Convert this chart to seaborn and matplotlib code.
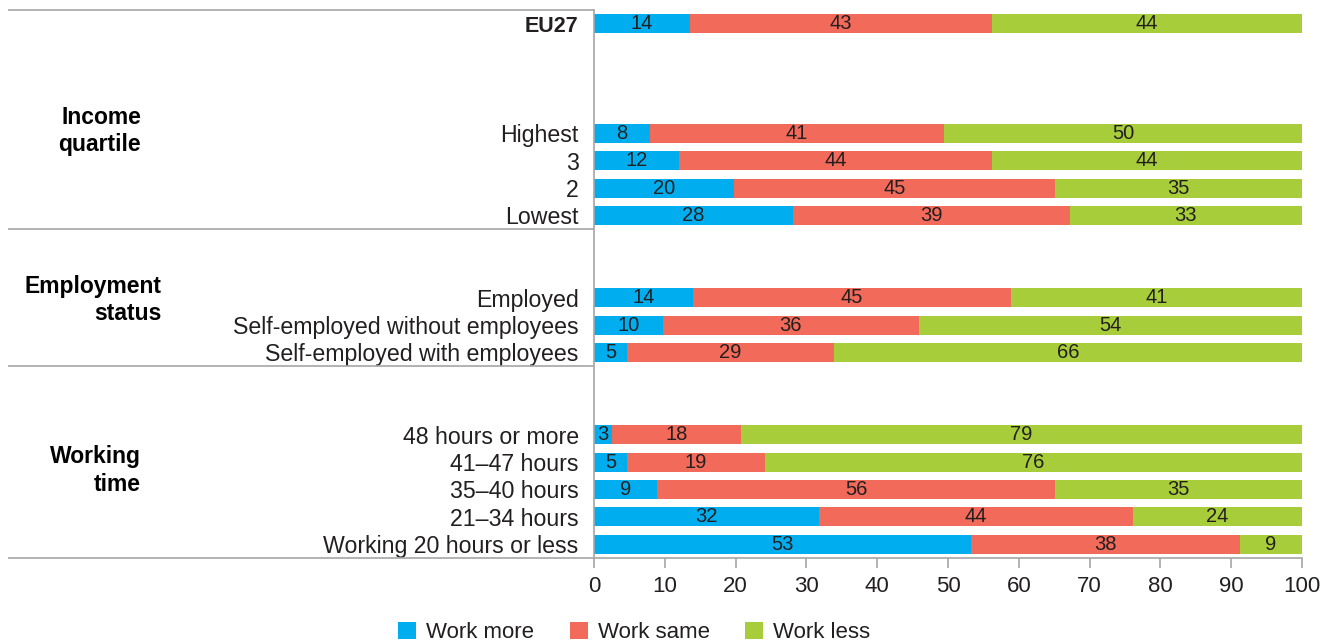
import matplotlib
matplotlib.use("Agg")
import matplotlib.pyplot as plt
from matplotlib.patches import Patch
import seaborn as sns
import pandas as pd
import numpy as np

# ---- data ----
rows = ["EU27", "Highest", "3", "2", "Lowest",
        "Employed", "Self-employed without employees", "Self-employed with employees",
        "48 hours or more", "41\u201347 hours", "35\u201340 hours", "21\u201334 hours",
        "Working 20 hours or less"]
row_pos = [0, 4, 5, 6, 7, 10, 11, 12, 15, 16, 17, 18, 19]

# shares (bar lengths)
work_more = [13.6, 7.9, 12.0, 19.8, 28.1, 14.0, 9.7, 4.7, 2.6, 4.7, 8.9, 31.8, 53.2]
work_same = [42.6, 41.5, 44.2, 45.3, 39.1, 44.9, 36.2, 29.2, 18.2, 19.4, 56.2, 44.3, 38.0]
work_less = [43.8, 50.6, 43.8, 34.9, 32.8, 41.1, 54.1, 66.1, 79.2, 75.9, 34.9, 23.9, 8.8]

# labels printed on the bars
lbl_more = [14, 8, 12, 20, 28, 14, 10, 5, 3, 5, 9, 32, 53]
lbl_same = [43, 41, 44, 45, 39, 45, 36, 29, 18, 19, 56, 44, 38]
lbl_less = [44, 50, 44, 35, 33, 41, 54, 66, 79, 76, 35, 24, 9]

series_names = ["Work more", "Work same", "Work less"]
colors = ["#00AEEF", "#F26A5A", "#A8CD3A"]

groups = ["Income\nquartile", "Employment\nstatus", "Working\ntime"]
group_y = [3.92, 10.08, 16.3]
group_x = [-0.64, -0.611, -0.64]
separators = [-0.5, 7.5, 12.5, 19.5]
x_ticks = list(range(0, 101, 10))

# ---- style ----
sns.set_theme(style="white")
plt.rcParams["font.family"] = ["Liberation Sans", "DejaVu Sans"]
text_color = "#231F20"
line_color = "#A6A6A6"

df = pd.DataFrame({"pos": row_pos, "more": work_more, "same": work_same, "less": work_less})
df["end_more"] = df["more"]
df["end_same"] = df["more"] + df["same"]
df["end_less"] = df["more"] + df["same"] + df["less"]

fig = plt.figure(figsize=(13.38, 6.44), dpi=100)
ax = fig.add_axes([594 / 1338, 1 - 558 / 644, (1302 - 594) / 1338, (558 - 10) / 644])

for col, c in zip(["end_less", "end_same", "end_more"], colors[::-1]):
    sns.barplot(data=df, x=col, y="pos", orient="y", native_scale=True, color=c,
                saturation=1, width=0.7, errorbar=None, ax=ax, linewidth=0)

# value labels
for i, p in enumerate(row_pos):
    starts = [0, work_more[i], work_more[i] + work_same[i]]
    lens = [work_more[i], work_same[i], work_less[i]]
    labs = [lbl_more[i], lbl_same[i], lbl_less[i]]
    for s, l, t in zip(starts, lens, labs):
        ax.text(s + l / 2, p, str(t), ha="center", va="center", fontsize=14.5, color=text_color)

ax.set_xlim(0, 100)
ax.set_ylim(19.5, -0.5)
ax.set_xlabel("")
ax.set_ylabel("")
ax.set_xticks(x_ticks)
ax.set_xticklabels([str(t) for t in x_ticks])
ax.set_yticks(row_pos)
ax.set_yticklabels(rows)
ax.tick_params(axis="y", length=0, pad=11, labelsize=16.7, labelcolor=text_color)
ax.tick_params(axis="x", length=7, width=1.2, color=line_color, direction="out",
               pad=6, labelsize=16, labelcolor=text_color, bottom=True)
eu = ax.get_yticklabels()[0]
eu.set_fontweight("bold")
eu.set_fontsize(15.5)

for s in ["top", "right"]:
    ax.spines[s].set_visible(False)
for s in ["left", "bottom"]:
    ax.spines[s].set_color(line_color)
    ax.spines[s].set_linewidth(1.2)

tr = ax.get_yaxis_transform()
for y in separators:
    ax.plot([-0.828, 0], [y, y], transform=tr, color=line_color, lw=1.2, clip_on=False,
            solid_capstyle="butt")

for g, gx, gy in zip(groups, group_x, group_y):
    ax.text(gx, gy, g, transform=tr, ha="right", va="center", multialignment="right",
            fontsize=16.5, fontweight="bold", color="black", linespacing=1.25)

handles = [Patch(facecolor=c, edgecolor="none") for c in colors]
fig.legend(handles, series_names, loc="center", bbox_to_anchor=(0.474, 0.018), ncol=3,
           frameon=False, fontsize=16, handlelength=0.8, handleheight=0.8,
           handletextpad=0.45, columnspacing=1.6, labelcolor=text_color)

fig.savefig("out.png", dpi=100)
